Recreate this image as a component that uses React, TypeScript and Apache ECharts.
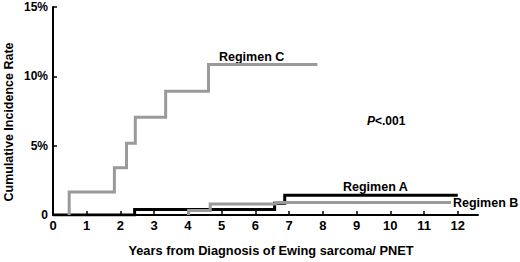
import React, { useEffect, useRef } from "react";
import * as echarts from "echarts";

// Regimen C (gray, upper curve)
const cTimes = [0.48, 1.82, 2.18, 2.44, 3.34, 4.61];
const cLevels = [1.65, 3.4, 5.17, 7.05, 8.92, 10.85];
const cStart = 0.48;
const cEnd = 7.84;

// Regimen A (black)
const aTimes = [2.42, 6.57, 6.87];
const aLevels = [0.4, 0.85, 1.42];
const aStart = 0;
const aEnd = 12.0;

// Regimen B (gray, lower)
const bTimes = [4.02, 4.66, 6.6];
const bLevels = [0.33, 0.8, 0.9];
const bStart = 4.02;
const bEnd = 11.8;

const xTicks = [0, 1, 2, 3, 4, 5, 6, 7, 8, 9, 10, 11, 12];

function stepPoints(start: number, times: number[], levels: number[], end: number) {
  const pts: number[][] = [[start, 0]];
  let prev = 0;
  times.forEach((t, i) => {
    pts.push([t, prev]);
    pts.push([t, levels[i]]);
    prev = levels[i];
  });
  pts.push([end, prev]);
  return pts;
}

const FONT = "'Liberation Sans', Arial, Helvetica, sans-serif";
const GRAY = "#9a9a9a";

export default function App() {
  const ref = useRef<HTMLDivElement>(null);
  useEffect(() => {
    if (!ref.current) return;
    const chart = echarts.init(ref.current, null, { renderer: "svg" });
    const textStyle = (extra: any) => ({
      fontFamily: FONT,
      fontWeight: "bold",
      fontSize: 12,
      fill: "#000",
      ...extra,
    });
    chart.setOption({
      animation: false,
      backgroundColor: "#fff",
      grid: { left: 53, top: 7, right: 42, bottom: 47 },
      xAxis: {
        type: "value",
        min: 0,
        max: 12.6,
        interval: 1,
        splitLine: { show: false },
        axisLine: { show: true, lineStyle: { color: "#000", width: 2 } },
        axisTick: { show: true, inside: true, length: 4, customValues: xTicks, lineStyle: { color: "#000", width: 1.5 } },
        axisLabel: {
          customValues: xTicks,
          margin: 4,
          color: "#000",
          fontFamily: FONT,
          fontWeight: "bold",
          fontSize: 13,
        },
      },
      yAxis: {
        type: "value",
        min: 0,
        max: 15,
        interval: 5,
        splitLine: { show: false },
        axisLine: { show: true, lineStyle: { color: "#000", width: 2 } },
        axisTick: { show: true, inside: true, length: 4, lineStyle: { color: "#000", width: 1.5 } },
        axisLabel: {
          margin: 5,
          color: "#000",
          fontFamily: FONT,
          fontWeight: "bold",
          fontSize: 12,
          formatter: (v: number) => (v === 0 ? "0" : v + "%"),
        },
      },
      series: [
        {
          name: "Regimen A",
          type: "line",
          data: stepPoints(aStart, aTimes, aLevels, aEnd),
          showSymbol: false,
          z: 2,
          lineStyle: { color: "#000", width: 3, join: "miter" },
        },
        {
          name: "Regimen B",
          type: "line",
          data: stepPoints(bStart, bTimes, bLevels, bEnd),
          showSymbol: false,
          z: 3,
          lineStyle: { color: GRAY, width: 3, join: "miter" },
        },
        {
          name: "Regimen C",
          type: "line",
          data: stepPoints(cStart, cTimes, cLevels, cEnd),
          showSymbol: false,
          z: 4,
          lineStyle: { color: GRAY, width: 3, join: "miter" },
        },
      ],
      graphic: [
        { type: "text", x: 219, y: 57, style: textStyle({ text: "Regimen C", fontSize: 12.5, verticalAlign: "middle" }) },
        { type: "text", x: 343, y: 187, style: textStyle({ text: "Regimen A", fontSize: 12.5, verticalAlign: "middle" }) },
        { type: "text", x: 453, y: 203, style: textStyle({ text: "Regimen B", fontSize: 12.5, verticalAlign: "middle" }) },
        {
          type: "text",
          x: 367,
          y: 121,
          style: textStyle({
            text: "{i|P}<.001",
            verticalAlign: "middle",
            rich: { i: { fontStyle: "italic", fontWeight: "bold", fontFamily: FONT, fontSize: 12 } },
          }),
        },
        {
          type: "text",
          x: 271,
          y: 250,
          style: textStyle({ text: "Years from Diagnosis of Ewing sarcoma/ PNET", fontSize: 12.8, align: "center", verticalAlign: "middle" }),
        },
        {
          type: "text",
          x: 9,
          y: 122,
          rotation: Math.PI / 2,
          style: textStyle({ text: "Cumulative Incidence Rate", fontSize: 12.5, align: "center", verticalAlign: "middle" }),
        },
      ],
    });
    return () => chart.dispose();
  }, []);
  return (
    <div
      ref={ref}
      style={{ position: "fixed", left: 0, top: 0, width: 520, height: 262, background: "#fff" }}
    />
  );
}
